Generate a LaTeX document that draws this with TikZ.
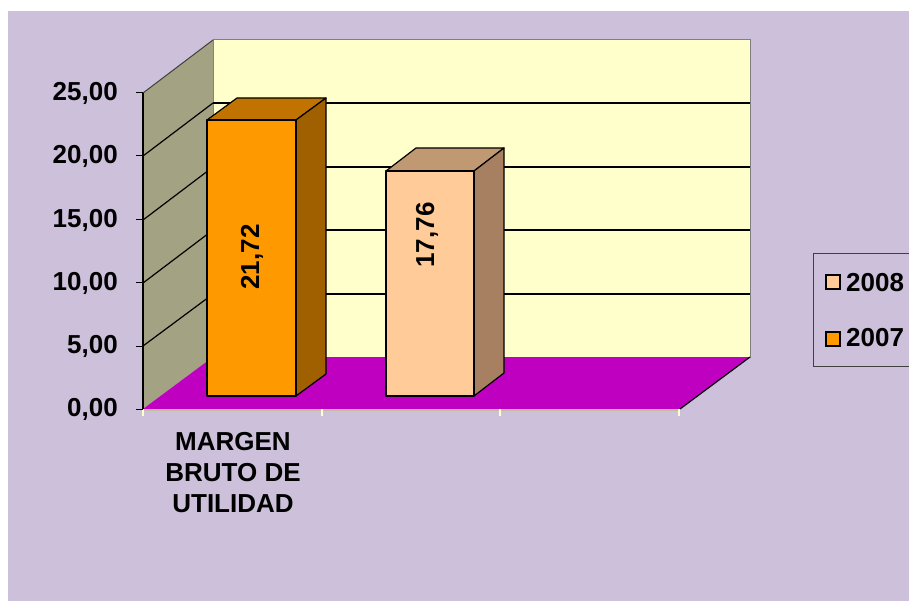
\documentclass[tikz,border=0pt]{standalone}
\usepackage{fontspec}
\setmainfont{Liberation Sans}
\usepackage{tikz}
\usepackage{xcolor}

\definecolor{fond}{RGB}{204,192,218}
\definecolor{murfond}{RGB}{255,255,204}
\definecolor{murcote}{RGB}{163,163,131}
\definecolor{sol}{RGB}{192,0,192}
\definecolor{orangeface}{RGB}{255,153,0}
\definecolor{orangehaut}{RGB}{192,115,0}
\definecolor{orangecote}{RGB}{160,96,0}
\definecolor{pecheface}{RGB}{255,204,153}
\definecolor{pechehaut}{RGB}{192,153,115}
\definecolor{pechecote}{RGB}{166,128,96}
\definecolor{axe}{RGB}{196,186,160}

\begin{document}
\begin{tikzpicture}[x=1pt,y=-1pt,
	etiquette/.style={font=\fontsize{26}{31}\selectfont\bfseries,inner sep=0pt},
	barre/.style={draw=black,line width=1.2pt,line join=round}]
	\useasboundingbox (0,0) rectangle (909,601);
	\fill[color=fond] (8,11) rectangle (909,601); % le fond

	% les murs et le sol
	\filldraw[fill=murfond,draw=gray,line width=1pt] (213,40) rectangle (750,357);
	\filldraw[fill=murcote,draw=none] (143,409)--(143,93)--(213,40)--(213,357)--cycle;
	\draw[color=darkgray,line width=1pt] (143,93)--(213,40);
	\fill[color=sol] (143,409)--(213,357)--(750,357)--(680,409)--cycle;
	\draw[color=black,line width=1.2pt] (680,409)--(750,357);

	% les lignes de la grille
	\draw[color=black,line width=1.2pt] (213,294)--(750,294);
	\draw[color=black,line width=1.2pt] (213,230)--(750,230);
	\draw[color=black,line width=1.2pt] (213,167)--(750,167);
	\draw[color=black,line width=1.2pt] (213,103)--(750,103);
	\draw[color=black,line width=1.2pt] (143,346)--(213,294);
	\draw[color=black,line width=1.2pt] (143,283)--(213,230);
	\draw[color=black,line width=1.2pt] (143,220)--(213,167);
	\draw[color=black,line width=1.2pt] (143,156)--(213,103);

	% l'axe des abscisses
	\draw[color=axe,line width=1.5pt] (143,410)--(680,410);
	\draw[color=murfond,line width=1.5pt] (143,409)--(143,416);
	\draw[color=murfond,line width=1.5pt] (322,409)--(322,416);
	\draw[color=murfond,line width=1.5pt] (500,409)--(500,416);
	\draw[color=murfond,line width=1.5pt] (679,409)--(679,416);

	% l'axe des ordonnées
	\draw[color=black,line width=1.2pt] (143,93)--(143,409);
	\draw[color=black,line width=1pt] (136,409)--(143,409) (136,346)--(143,346) (136,283)--(143,283)
		(136,220)--(143,220) (136,156)--(143,156) (136,93)--(143,93);
	\node[etiquette,anchor=east] (l0) at (118,409) {0,00};
	\node[etiquette,anchor=east] (l5) at (118,346) {5,00};
	\node[etiquette,anchor=east] (l10) at (118,283) {10,00};
	\node[etiquette,anchor=east] (l15) at (118,220) {15,00};
	\node[etiquette,anchor=east] (l20) at (118,156) {20,00};
	\node[etiquette,anchor=east] (l25) at (118,93) {25,00};

	% la barre 2007
	\filldraw[barre,fill=orangehaut] (207,120)--(237,98)--(326,98)--(296,120)--cycle;
	\filldraw[barre,fill=orangecote] (296,120)--(326,98)--(326,374)--(296,396)--cycle;
	\filldraw[barre,fill=orangeface] (207,120) rectangle (296,396);
	\node[etiquette,rotate=90] (v2007) at (252,257) {21,72};

	% la barre 2008
	\filldraw[barre,fill=pechehaut] (386,171)--(416,148)--(504,148)--(474,171)--cycle;
	\filldraw[barre,fill=pechecote] (474,171)--(504,148)--(504,373)--(474,396)--cycle;
	\filldraw[barre,fill=pecheface] (386,171) rectangle (474,396);
	\node[etiquette,rotate=90] (v2008) at (427,235) {17,76};

	\node[etiquette,anchor=north,align=center] (cat) at (233,432) {MARGEN\\BRUTO DE\\UTILIDAD};

	% la légende
	\draw[color=darkgray,line width=1pt] (813,254) rectangle (915,366);
	\filldraw[fill=pecheface,draw=black,line width=1.2pt] (826,275) rectangle (840,289);
	\filldraw[fill=orangeface,draw=black,line width=1.2pt] (826,332) rectangle (840,346);
	\node[etiquette,anchor=base west] (leg2008) at (846,291) {2008};
	\node[etiquette,anchor=base west] (leg2007) at (846,346) {2007};
\end{tikzpicture}
\end{document}
